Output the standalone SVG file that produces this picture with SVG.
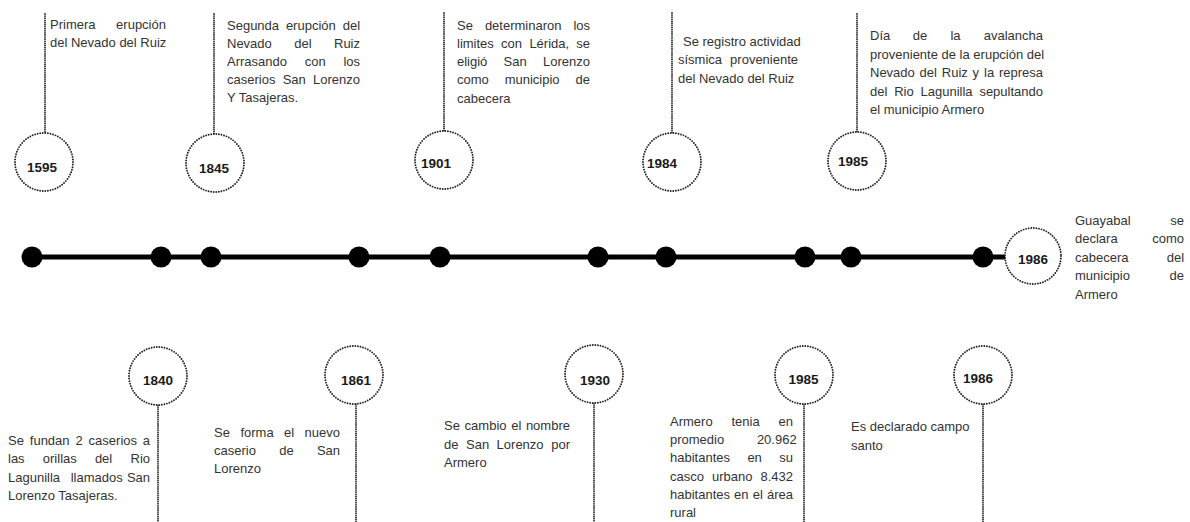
<svg xmlns="http://www.w3.org/2000/svg" width="1190" height="522" viewBox="0 0 1190 522">
<style>
text{font-family:"Liberation Sans",Arial,sans-serif;font-size:13px;fill:#333}
.yr{font-weight:bold;font-size:13.5px;fill:#1a1a1a;text-anchor:middle}
.ring{fill:#fff;stroke:#222;stroke-width:1.9;stroke-dasharray:0 2.6;stroke-linecap:round}
.vl{stroke:#222;stroke-width:1.8;stroke-dasharray:0 2.1;stroke-linecap:round}
.dot{fill:#000}
</style>
<rect width="1190" height="522" fill="#fff"/>
<g id="connectors">
<line x1="32" y1="257" x2="1006" y2="257" stroke="#000" stroke-width="5"/>
<line class="vl" x1="45" y1="14" x2="45" y2="133"/>
<line class="vl" x1="214" y1="14" x2="214" y2="134"/>
<line class="vl" x1="444" y1="13" x2="444" y2="131"/>
<line class="vl" x1="672" y1="13" x2="672" y2="133"/>
<line class="vl" x1="857" y1="14" x2="857" y2="132"/>
<line class="vl" x1="158" y1="405" x2="158" y2="522"/>
<line class="vl" x1="356" y1="404" x2="356" y2="522"/>
<line class="vl" x1="594" y1="403" x2="594" y2="522"/>
<line class="vl" x1="804" y1="404" x2="804" y2="522"/>
<line class="vl" x1="983" y1="404" x2="983" y2="522"/>
</g>
<g id="timeline-dots">
<circle class="dot" cx="32" cy="257" r="10.5"/>
<circle class="dot" cx="161" cy="257" r="10.5"/>
<circle class="dot" cx="211" cy="257" r="10.5"/>
<circle class="dot" cx="359" cy="257" r="10.5"/>
<circle class="dot" cx="440" cy="257" r="10.5"/>
<circle class="dot" cx="598" cy="257" r="10.5"/>
<circle class="dot" cx="666" cy="257" r="10.5"/>
<circle class="dot" cx="805" cy="257" r="10.5"/>
<circle class="dot" cx="851" cy="257" r="10.5"/>
<circle class="dot" cx="983" cy="257" r="10.5"/>
</g>
<g id="e1595">
<circle class="ring" cx="44" cy="162" r="29"/>
<text class="yr" x="42" y="172">1595</text>
<text><tspan x="50" y="29">Primera</tspan><tspan x="116.1" y="29">erupción</tspan><tspan x="50" y="47">del Nevado del Ruiz</tspan></text>
</g>
<g id="e1845">
<circle class="ring" cx="215" cy="163" r="29"/>
<text class="yr" x="214" y="173">1845</text>
<text><tspan x="227" y="30">Segunda</tspan><tspan x="285.9" y="30">erupción</tspan><tspan x="342.7" y="30">del</tspan>
<tspan x="227" y="48">Nevado</tspan><tspan x="294.2" y="48">del</tspan><tspan x="334" y="48">Ruiz</tspan>
<tspan x="227" y="66">Arrasando</tspan><tspan x="304.7" y="66">con</tspan><tspan x="343.4" y="66">los</tspan>
<tspan x="227" y="84">caserios</tspan><tspan x="282.7" y="84">San</tspan><tspan x="313" y="84">Lorenzo</tspan>
<tspan x="227" y="102">Y Tasajeras.</tspan></text>
</g>
<g id="e1901">
<circle class="ring" cx="444" cy="160" r="29"/>
<text class="yr" x="436" y="168">1901</text>
<text><tspan x="457" y="30">Se</tspan><tspan x="484.9" y="30">determinaron</tspan><tspan x="573.4" y="30">los</tspan>
<tspan x="457" y="48">limites</tspan><tspan x="501.1" y="48">con</tspan><tspan x="529.4" y="48">Lérida,</tspan><tspan x="576.3" y="48">se</tspan>
<tspan x="457" y="66">eligió</tspan><tspan x="503.6" y="66">San</tspan><tspan x="543" y="66">Lorenzo</tspan>
<tspan x="457" y="84">como</tspan><tspan x="504.7" y="84">municipio</tspan><tspan x="575.5" y="84">de</tspan>
<tspan x="457" y="103">cabecera</tspan></text>
</g>
<g id="e1984">
<circle class="ring" cx="672" cy="162" r="29"/>
<text class="yr" x="662" y="168">1984</text>
<text><tspan x="683" y="46">Se registro actividad</tspan>
<tspan x="678" y="64">sísmica</tspan><tspan x="730.1" y="64">proveniente</tspan>
<tspan x="678" y="83">del Nevado del Ruiz</tspan></text>
</g>
<g id="e1985a">
<circle class="ring" cx="857" cy="161" r="29"/>
<text class="yr" x="853" y="166">1985</text>
<text><tspan x="870" y="40">Día</tspan><tspan x="912.7" y="40">de</tspan><tspan x="950.4" y="40">la</tspan><tspan x="983.7" y="40">avalancha</tspan>
<tspan x="870" y="58.5">proveniente de la erupción del</tspan>
<tspan x="870" y="77">Nevado</tspan><tspan x="919.6" y="77">del</tspan><tspan x="941.8" y="77">Ruiz</tspan><tspan x="972.6" y="77">y</tspan><tspan x="984" y="77">la</tspan><tspan x="998.9" y="77">represa</tspan>
<tspan x="870" y="95.5">del</tspan><tspan x="894.2" y="95.5">Rio</tspan><tspan x="920.5" y="95.5">Lagunilla</tspan><tspan x="979.4" y="95.5">sepultando</tspan>
<tspan x="870" y="114">el municipio Armero</tspan></text>
</g>
<g id="e1986a">
<circle class="ring" cx="1033" cy="256" r="28"/>
<text class="yr" x="1033" y="264">1986</text>
<text><tspan x="1075" y="224.5">Guayabal</tspan><tspan x="1170.3" y="224.5">se</tspan>
<tspan x="1075" y="242.5">declara</tspan><tspan x="1152.2" y="242.5">como</tspan>
<tspan x="1075" y="261.5">cabecera</tspan><tspan x="1166.7" y="261.5">del</tspan>
<tspan x="1075" y="279.5">municipio</tspan><tspan x="1169.5" y="279.5">de</tspan>
<tspan x="1075" y="298.5">Armero</tspan></text>
</g>
<g id="e1840">
<circle class="ring" cx="158" cy="376" r="29"/>
<text class="yr" x="158" y="385">1840</text>
<text><tspan x="8" y="445">Se</tspan><tspan x="29.8" y="445">fundan</tspan><tspan x="75.5" y="445">2</tspan><tspan x="88.6" y="445">caserios</tspan><tspan x="142.8" y="445">a</tspan>
<tspan x="8" y="463">las</tspan><tspan x="42.8" y="463">orillas</tspan><tspan x="94.9" y="463">del</tspan><tspan x="130.5" y="463">Rio</tspan>
<tspan x="8" y="482">Lagunilla</tspan><tspan x="70.7" y="482">llamados</tspan><tspan x="126.9" y="482">San</tspan>
<tspan x="8" y="500">Lorenzo Tasajeras.</tspan></text>
</g>
<g id="e1861">
<circle class="ring" cx="354" cy="375" r="29"/>
<text class="yr" x="356" y="385">1861</text>
<text><tspan x="214" y="437">Se</tspan><tspan x="240.4" y="437">forma</tspan><tspan x="284.1" y="437">el</tspan><tspan x="304.6" y="437">nuevo</tspan>
<tspan x="214" y="455">caserio</tspan><tspan x="279.2" y="455">de</tspan><tspan x="316.9" y="455">San</tspan>
<tspan x="214" y="473">Lorenzo</tspan></text>
</g>
<g id="e1930">
<circle class="ring" cx="594" cy="374" r="29"/>
<text class="yr" x="595" y="385">1930</text>
<text><tspan x="444" y="430">Se</tspan><tspan x="464.6" y="430">cambio</tspan><tspan x="511.2" y="430">el</tspan><tspan x="525.9" y="430">nombre</tspan>
<tspan x="444" y="449">de</tspan><tspan x="466" y="449">San</tspan><tspan x="496.6" y="449">Lorenzo</tspan><tspan x="551.2" y="449">por</tspan>
<tspan x="444" y="467">Armero</tspan></text>
</g>
<g id="e1985b">
<circle class="ring" cx="804" cy="375" r="29"/>
<text class="yr" x="803.5" y="384">1985</text>
<text><tspan x="670" y="426">Armero</tspan><tspan x="731.5" y="426">tenia</tspan><tspan x="778.5" y="426">en</tspan>
<tspan x="670" y="444">promedio</tspan><tspan x="756.9" y="444">20.962</tspan>
<tspan x="670" y="462">habitantes</tspan><tspan x="747.4" y="462">en</tspan><tspan x="779.3" y="462">su</tspan>
<tspan x="670" y="481">casco</tspan><tspan x="712" y="481">urbano</tspan><tspan x="760.5" y="481">8.432</tspan>
<tspan x="670" y="499">habitantes</tspan><tspan x="734.1" y="499">en</tspan><tspan x="752.8" y="499">el</tspan><tspan x="767" y="499">área</tspan>
<tspan x="670" y="517">rural</tspan></text>
</g>
<g id="e1986b">
<circle class="ring" cx="983" cy="375" r="29"/>
<text class="yr" x="978" y="383">1986</text>
<text><tspan x="851" y="431">Es declarado campo</tspan>
<tspan x="851" y="450">santo</tspan></text>
</g>
</svg>
